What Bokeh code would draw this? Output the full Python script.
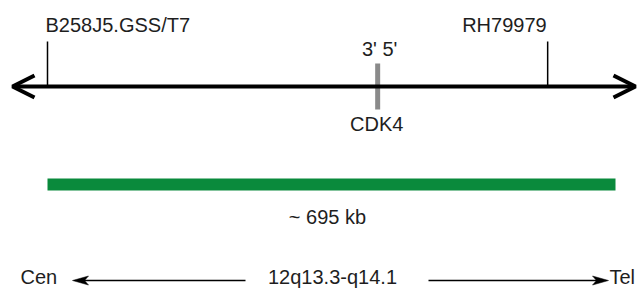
from bokeh.plotting import figure
from bokeh.models import Range1d, Arrow, OpenHead
from bokeh.core.properties import value
from bokeh.embed import file_html
from bokeh.resources import INLINE

# ---- data ----
region_kb = [0, 695]
region_label = "~ 695 kb"
marker_names = ["B258J5.GSS/T7", "RH79979"]
marker_kb = [0, 612]
gene_name = ["CDK4"]
gene_kb = [404]
strand_label = ["3' 5'"]
band_label = ["12q13.3-q14.1"]
end_labels = ["Cen", "Tel"]

# ---- layout helpers (reference pixel grid -> kb) ----
PX_PER_KB = 568 / 695
X0 = 47
W, H = 638, 288
DY = -9  # baseline compensation for svg text


def kb(px):
    return (px - X0) / PX_PER_KB


FONT = value("Liberation Sans")
FS = "20px"
TXT = "#1e1e1e"

p = figure(width=W, height=H, output_backend="svg", toolbar_location=None,
           x_range=Range1d(kb(0), kb(W)), y_range=Range1d(H, 0),
           x_axis_type=None, y_axis_type=None, min_border=0)
p.outline_line_color = None
p.background_fill_color = "white"
p.border_fill_color = "white"

# main chromosome line with open arrow heads
p.add_layout(Arrow(start=OpenHead(size=22, line_width=4, line_color="black"),
                   end=OpenHead(size=22, line_width=4, line_color="black"),
                   x_start=kb(12), x_end=kb(635), y_start=86, y_end=86,
                   line_width=4, line_color="black"))

# marker ticks
p.segment(x0=marker_kb, y0=[41] * len(marker_kb), x1=marker_kb, y1=[86] * len(marker_kb),
          line_width=1.5, line_color="black")
p.text(x=[marker_kb[0]], y=[33 + DY], text=[marker_names[0]], text_align="left",
       text_baseline="alphabetic", x_offset=-2, text_font=FONT, text_font_size=FS, text_color=TXT)
p.text(x=[marker_kb[1]], y=[33 + DY], text=[marker_names[1]], text_align="right",
       text_baseline="alphabetic", x_offset=-1, text_font=FONT, text_font_size=FS, text_color=TXT)

# gene tick
p.segment(x0=gene_kb, y0=[63], x1=gene_kb, y1=[109], line_width=5, line_color="#8a8a8a")
p.text(x=gene_kb, y=[57 + DY], text=strand_label, text_align="center", text_baseline="alphabetic",
       x_offset=2, text_font=FONT, text_font_size=FS, text_color=TXT)
p.text(x=gene_kb, y=[132 + DY], text=gene_name, text_align="center", text_baseline="alphabetic",
       x_offset=-1, text_font=FONT, text_font_size=FS, text_color=TXT)

# region bar
p.quad(left=[region_kb[0]], right=[region_kb[1]], top=[178], bottom=[190],
       fill_color="#0a8a3c", line_color=None)
p.text(x=[(region_kb[0] + region_kb[1]) / 2], y=[225 + DY], text=[region_label], text_align="center",
       text_baseline="alphabetic", x_offset=-4, text_font=FONT, text_font_size=FS, text_color=TXT)

# bottom orientation row
p.text(x=[kb(20)], y=[285 + DY], text=[end_labels[0]], text_align="left", text_baseline="alphabetic",
       text_font=FONT, text_font_size=FS, text_color=TXT)
p.text(x=[kb(609)], y=[285 + DY], text=[end_labels[1]], text_align="left", text_baseline="alphabetic",
       text_font=FONT, text_font_size=FS, text_color=TXT)
p.text(x=[kb(332)], y=[285 + DY], text=band_label, text_align="center", text_baseline="alphabetic",
       text_font=FONT, text_font_size=FS, text_color=TXT)

p.segment(x0=[kb(245), kb(428)], y0=[280, 280], x1=[kb(78), kb(602)], y1=[280, 280],
          line_width=1.5, line_color="black")
p.patches(xs=[[kb(72), kb(88), kb(84), kb(88)], [kb(608), kb(592), kb(596), kb(592)]],
          ys=[[280, 275.5, 280, 284.5], [280, 275.5, 280, 284.5]],
          fill_color="black", line_color="black", line_width=0.5)

open("out.html", "w").write(file_html(p, INLINE))
